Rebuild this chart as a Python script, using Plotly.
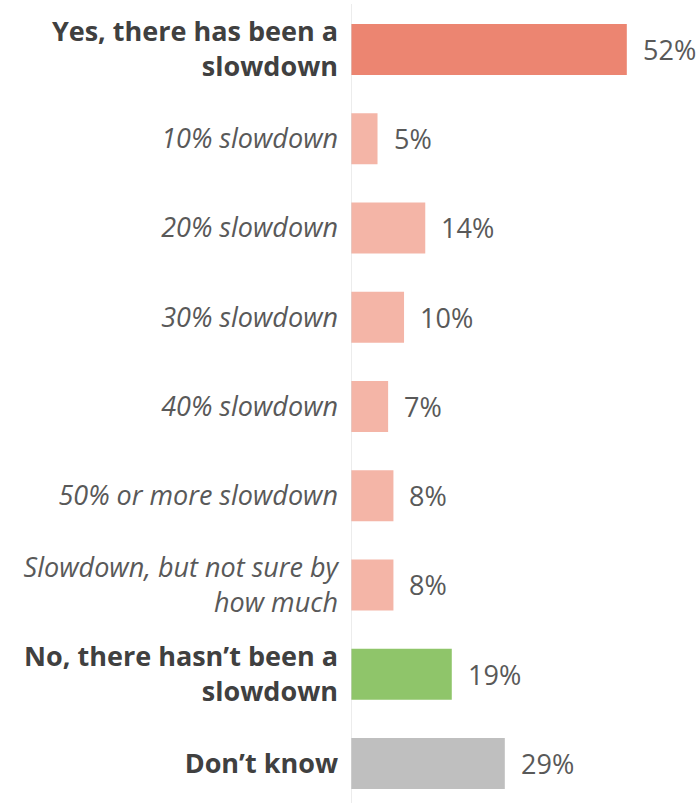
import plotly.graph_objects as go

categories = [
    "<b><span style='color:#404040'>Yes, there has been a<br>slowdown</span></b>",
    "<i>10% slowdown</i>",
    "<i>20% slowdown</i>",
    "<i>30% slowdown</i>",
    "<i>40% slowdown</i>",
    "<i>50% or more slowdown</i>",
    "<i>Slowdown, but not sure by<br>how much</i>",
    "<b><span style='color:#404040'>No, there hasn’t been a<br>slowdown</span></b>",
    "<b><span style='color:#404040'>Don’t know</span></b>",
]
values = [52, 5, 14, 10, 7, 8, 8, 19, 29]
labels = ["52%", "5%", "14%", "10%", "7%", "8%", "8%", "19%", "29%"]
colors = ["#EC8571", "#F4B5A7", "#F4B5A7", "#F4B5A7", "#F4B5A7", "#F4B5A7", "#F4B5A7", "#8FC56A", "#BFBFBF"]

FONT = "Open Sans"
idx = list(range(len(categories)))

fig = go.Figure()
fig.add_trace(go.Bar(
    x=values, y=idx, orientation="h",
    marker=dict(color=colors, line=dict(width=0)),
    width=0.571, hoverinfo="skip",
))
for i, (v, t) in enumerate(zip(values, labels)):
    fig.add_annotation(x=v, y=i, text=t, showarrow=False, xanchor="left",
                       xshift=14, font=dict(family=FONT, size=27, color="#595959"))

fig.add_shape(type="line", xref="x", yref="paper", x0=0, x1=0, y0=0.0, y1=0.995,
              line=dict(color="#D9D9D9", width=1))

fig.update_layout(
    width=700, height=803,
    margin=dict(l=351, r=0, t=0, b=0),
    plot_bgcolor="white", paper_bgcolor="white",
    showlegend=False,
    xaxis=dict(range=[0, 65.8], visible=False, fixedrange=True),
    yaxis=dict(range=[8.443, -0.5546], tickmode="array", tickvals=idx, ticktext=categories,
               showgrid=False, zeroline=False, showline=False, ticks="",
               ticklabelstandoff=12, fixedrange=True,
               tickfont=dict(family=FONT, size=27, color="#595959")),
)
fig.write_html("out.html", config={"displayModeBar": False, "staticPlot": True},
               post_script="document.body.style.margin='0';")
